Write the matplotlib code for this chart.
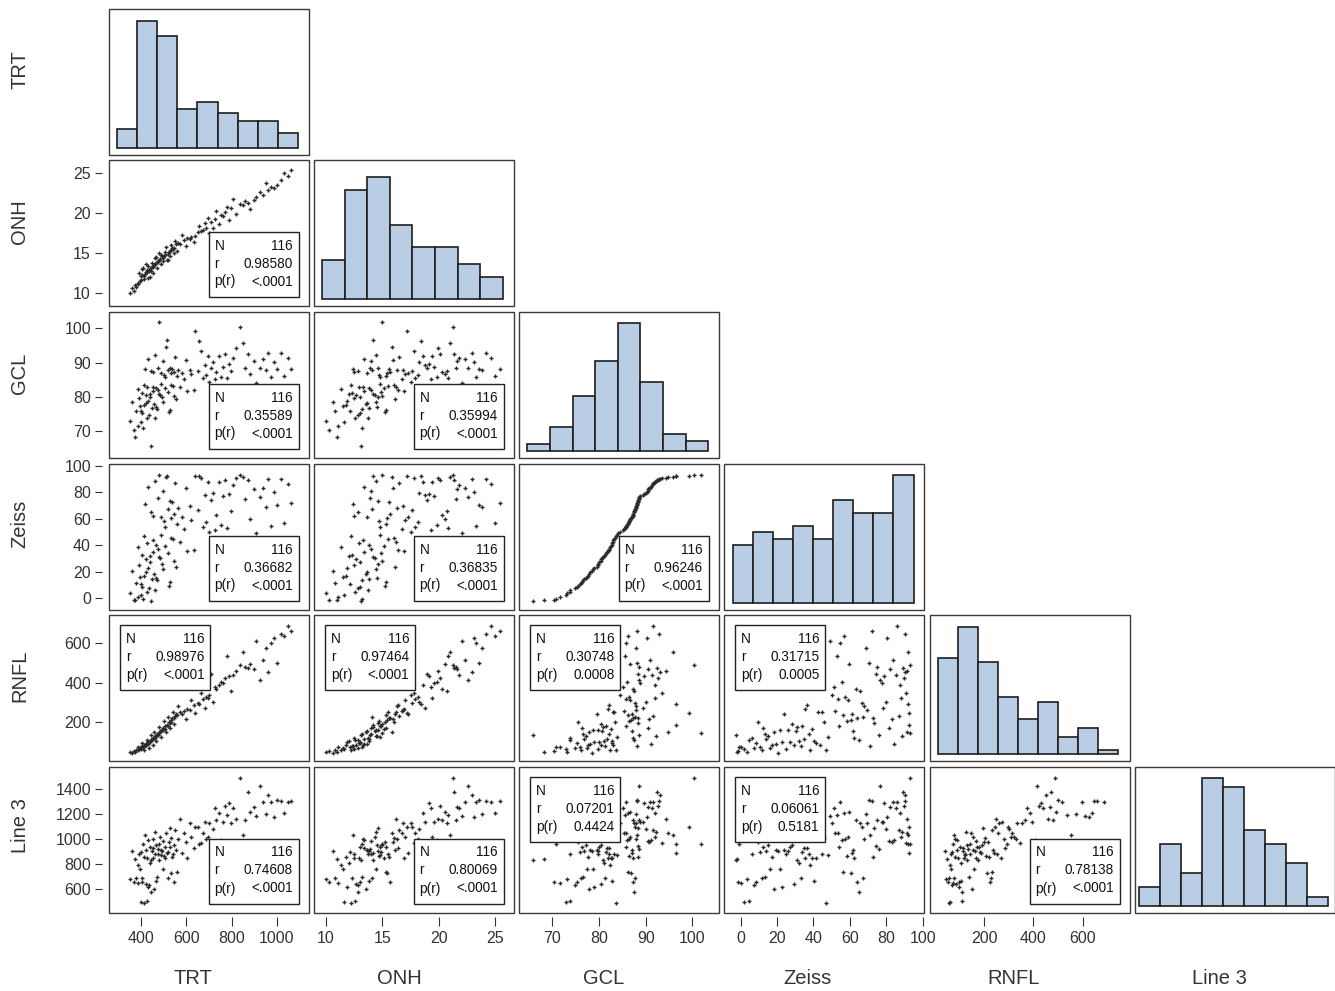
import numpy as np
import matplotlib.pyplot as plt
from matplotlib.patches import Rectangle

plt.rcParams['font.family'] = ['Liberation Sans', 'DejaVu Sans']

var_names = ["TRT", "ONH", "GCL", "Zeiss", "RNFL", "Line 3"]

# one value per subject, same subject order in every list
trt = [353, 361, 369, 374, 380,
       386, 388, 393, 395, 399, 401, 405, 407, 410, 413, 415, 417, 421, 423, 426, 428, 431,
       433, 436, 439, 441, 443, 447, 449, 452, 454, 456, 459, 461, 463, 466, 468, 470,
       474, 476, 480, 482, 485, 488, 490, 494, 496, 499, 503, 505, 508, 512, 514, 518, 520,
       523, 527, 529, 533, 535, 539, 541, 545, 548, 551, 554, 559,
       566, 573, 583, 589, 599, 605, 616, 623, 634, 641,
       653, 658, 667, 672, 681, 686, 695, 700, 710, 716, 726, 732,
       745, 752, 763, 770, 781, 788, 799, 807, 819,
       835, 849, 859, 873, 883, 897, 907,
       926, 937, 951, 961, 975, 985, 999,
       1016, 1029, 1047, 1061]

onh = [10.0, 10.6, 10.3, 11.0, 10.8, 11.3, 11.1, 12.5, 11.5, 11.6,
       12.1, 13.0, 12.3, 13.2, 12.2, 11.8, 12.4, 12.7, 13.6, 12.6,
       12.9, 13.4, 11.9, 12.8, 13.0, 12.0, 13.1, 12.8, 13.8, 13.3,
       12.5, 13.4, 13.5, 13.7, 14.4, 13.8, 14.5, 13.2, 14.0, 13.9,
       14.2, 15.0, 14.3, 14.8, 13.6, 14.6, 14.4, 14.0, 14.7, 15.1,
       14.8, 15.8, 14.2, 14.9, 14.1, 15.2, 14.6, 15.3, 15.4, 16.0,
       15.6, 15.5, 15.0, 15.7, 16.5, 16.1, 15.3, 16.3, 16.2, 17.3,
       16.7, 15.9, 16.9, 16.8, 17.0, 16.4, 17.2, 17.6, 18.4, 17.8,
       17.9, 18.8, 18.1, 19.4, 17.5, 18.9, 18.2, 19.3, 20.3, 18.6,
       19.8, 19.6, 20.1, 20.8, 19.1, 20.7, 21.8, 19.9, 21.2, 21.0,
       21.5, 21.3, 20.5, 21.6, 22.0, 22.6, 22.3, 23.8, 22.9, 23.3,
       23.1, 23.5, 24.2, 25.0, 24.6, 25.4]

gcl = [73.2, 78.5, 70.4, 68.3, 76.1, 82.4, 71.6, 79.8, 77.4, 72.9,
       75.9, 75.4, 81.2, 70.9, 83.6, 77.7, 88.2, 80.5, 78.2, 73.8,
       82.9, 91.2, 78.9, 74.9, 80.1, 81.0, 65.8, 87.5, 76.8, 83.1,
       87.2, 81.7, 77.9, 73.9, 92.3, 82.8, 77.2, 76.6, 82.2, 88.6,
       80.8, 101.8, 80.7, 83.8, 87.1, 79.9, 78.7, 90.4, 86.5, 82.6,
       85.8, 94.7, 96.6, 81.5, 87.8, 75.6, 88.4, 76.4, 86.9, 83.4,
       88.3, 83.3, 80.4, 87.4, 91.6, 79.6, 86.2, 87.9, 83.0, 87.0,
       85.4, 90.8, 81.9, 88.0, 86.6, 82.1, 99.3, 87.7, 96.4, 93.5,
       85.7, 89.4, 86.4, 92.0, 84.5, 88.4, 90.1, 85.2, 87.3, 91.9,
       86.0, 88.8, 92.7, 85.5, 89.7, 87.6, 91.3, 94.4, 100.3, 95.9,
       88.5, 92.5, 86.7, 90.6, 84.0, 88.6, 91.0, 87.9, 93.0, 85.9,
       90.2, 88.1, 92.9, 86.3, 91.5, 88.2]

zeiss = [3.5, 20.5, -1.6, -1.9, 11.5, 38.3, 0.5, 24.9, 16.0, 2.0,
         10.5, 8.3, 32.9, -1.0, 46.9, 17.0, 71.2, 29.3, 19.4, 4.8,
         41.4, 84.4, 22.7, 7.2, 27.1, 32.0, -2.3, 64.8, 14.2, 43.6,
         62.4, 34.7, 18.3, 6.0, 88.7, 40.3, 15.1, 13.3, 37.4, 75.8,
         31.1, 93.0, 30.2, 48.0, 61.5, 26.0, 21.6, 81.4, 58.3, 39.2,
         54.1, 91.5, 92.4, 33.8, 67.2, 9.4, 73.4, 12.4, 60.4, 45.8,
         72.5, 44.7, 28.2, 64.0, 86.8, 23.8, 56.2, 68.0, 42.5, 61.0,
         52.0, 83.0, 35.6, 69.6, 59.0, 36.5, 92.6, 66.4, 92.1, 90.9,
         53.4, 78.2, 57.6, 88.1, 50.2, 74.2, 79.8, 51.3, 63.2, 87.5,
         55.5, 77.4, 89.7, 52.7, 79.0, 65.6, 85.3, 91.2, 92.8, 91.8,
         75.0, 89.2, 59.7, 82.2, 49.1, 76.6, 83.6, 68.8, 90.5, 54.8,
         80.6, 70.4, 90.1, 56.9, 86.1, 71.9]

rnfl = [46, 41, 53, 50, 56, 60, 75, 65, 67, 63,
        71, 96, 77, 73, 58, 81, 79, 85, 88, 109,
        93, 90, 99, 69, 101, 106, 132, 111, 114, 83,
        119, 116, 150, 121, 127, 104, 129, 138, 141, 135,
        174, 144, 153, 124, 156, 162, 159, 168, 206, 165,
        178, 147, 186, 182, 226, 198, 194, 171, 210, 202,
        218, 253, 190, 222, 230, 238, 234, 279, 250, 242,
        256, 214, 267, 261, 309, 285, 246, 297, 291, 345,
        315, 273, 328, 321, 335, 445, 303, 375, 365, 385,
        405, 395, 424, 535, 431, 355, 438, 459, 487, 555,
        480, 473, 494, 466, 612, 415, 515, 575, 452, 598,
        625, 499, 648, 637, 688, 659]

line3 = [680, 905, 660, 840, 690, 795, 650, 880, 760, 495,
         900, 655, 690, 960, 485, 860, 1030, 640, 915, 505,
         850, 990, 620, 630, 940, 805, 830, 575, 905, 1000,
         845, 925, 600, 880, 1060, 665, 950, 700, 880, 920,
         835, 960, 1015, 870, 910, 905, 760, 985, 865, 850,
         935, 1045, 890, 900, 685, 975, 1090, 940, 730, 1010,
         860, 880, 955, 660, 1070, 915, 740, 1000, 1160, 890,
         1050, 975, 845, 1130, 1020, 930, 1095, 1100, 960, 965,
         1045, 1140, 1000, 1020, 1125, 945, 1080, 1250, 1150, 1210,
         990, 1140, 1265, 1195, 1290, 1130, 1245, 1160, 1492, 1035,
         1150, 1375, 1220, 1260, 1185, 1425, 1300, 1200, 1355, 1295,
         1180, 1310, 1305, 1210, 1300, 1305]

# correlation boxes as printed in the chart (row var, col var)
stat_cells = [(1, 0), (2, 0), (2, 1), (3, 0), (3, 1), (3, 2),
              (4, 0), (4, 1), (4, 2), (4, 3),
              (5, 0), (5, 1), (5, 2), (5, 3), (5, 4)]
stat_r = [0.98580, 0.35589, 0.35994, 0.36682, 0.36835, 0.96246,
          0.98976, 0.97464, 0.30748, 0.31715,
          0.74608, 0.80069, 0.07201, 0.06061, 0.78138]
stat_p = ["<.0001", "<.0001", "<.0001", "<.0001", "<.0001", "<.0001",
          "<.0001", "<.0001", "0.0008", "0.0005",
          "<.0001", "<.0001", "0.4424", "0.5181", "<.0001"]

# ---- layout / style ----
W, H = 1335, 991
col_left = [109, 314, 519, 724, 930, 1135]
row_top = [9, 160, 312, 464, 615, 767]
pw, ph = 200, 146

xlims = [(260, 1141), (8.94, 26.64), (62.9, 105.7), (-9.1, 100.7), (-20, 793), (448, 1532)]
ylims = [None, (8.41, 26.66), (62.28, 104.8), (-9.1, 101.5), (2.5, 741.8), (408, 1576)]
axis_ticks = [[400, 600, 800, 1000], [10, 15, 20, 25], [70, 80, 90, 100],
              [0, 20, 40, 60, 80, 100], [200, 400, 600], [600, 800, 1000, 1200, 1400]]
hist_bins = [(294, 88.8, 9), (9.65, 2.0, 8), (64.7, 4.84, 8),
             (-4.4, 11.04, 9), (13.8, 81.3, 9), (470, 114, 9)]
hist_top_gap = [11.7, 17, 10.7, 10.7, 12.3, 11]
upper_left_boxes = {(4, 0), (4, 1), (4, 2), (4, 3), (5, 2), (5, 3)}

ylabel_pos = [70, 222, 373, 524, 676, 826]
xlabel_pos = [193, 399, 604, 808, 1014, 1219]

bar_color = "#b9cde5"
frame_color = "#3a3a3a"
text_color = "#333333"

data = [trt, onh, gcl, zeiss, rnfl, line3]
stats = dict(zip(stat_cells, zip(stat_r, stat_p)))

fig = plt.figure(figsize=(13.35, 9.91), dpi=100)

for i in range(6):
    for j in range(i + 1):
        ax = fig.add_axes([col_left[j] / W, 1 - (row_top[i] + ph) / H, pw / W, ph / H])
        ax.set_xlim(xlims[j])
        for sp in ax.spines.values():
            sp.set_color("none")
        ax.add_patch(Rectangle((0, 0), 1, 1, transform=ax.transAxes, fill=False,
                               ec=frame_color, lw=1.0, clip_on=False, zorder=6))

        if i == j:
            start, width, nb = hist_bins[i]
            edges = start + width * np.arange(nb + 1)
            counts, _, _ = ax.hist(data[i], bins=edges, fc=bar_color, ec="#1e1e1e", lw=1.2)
            m = counts.max()
            s = (ph - 7 - hist_top_gap[i]) / m
            ax.set_ylim(-7 / s, m + hist_top_gap[i] / s)
        else:
            ax.scatter(data[j], data[i], marker="+", s=12, linewidths=1.0,
                       c="#2a2a2a", zorder=2)
            ax.set_ylim(ylims[i])

            r, p = stats[(i, j)]
            bw, bh = 90 / pw, 65 / ph
            if (i, j) in upper_left_boxes:
                x0, y0 = 11 / pw, 1 - 10 / ph - bh
            else:
                x0, y0 = 1 - 10.5 / pw - bw, 9.5 / ph
            ax.add_patch(Rectangle((x0, y0), bw, bh, transform=ax.transAxes,
                                   fc="white", ec="#222222", lw=1.0, zorder=4))
            left = ["N", "r", "p(r)"]
            right = [str(len(data[i])), f"{r:.5f}", p]
            for k in range(3):
                ty = y0 + bh - (14 + 18 * k) / ph
                ax.text(x0 + 6 / pw, ty, left[k], transform=ax.transAxes,
                        ha="left", va="center", fontsize=9.8, color="#111111", zorder=5)
                ax.text(x0 + bw - 5.5 / pw, ty, right[k], transform=ax.transAxes,
                        ha="right", va="center", fontsize=9.8, color="#111111", zorder=5)

        # y axis ticks only on the first column
        if j == 0 and i > 0:
            ax.spines["left"].set_position(("outward", 5))
            ax.set_yticks(axis_ticks[i])
            ax.tick_params(axis="y", direction="out", length=5, width=0.8, pad=3,
                           labelsize=11.5, colors=text_color)
        else:
            ax.set_yticks([])

        # x axis ticks only on the bottom row
        if i == 5 and j < 5:
            ax.spines["bottom"].set_position(("outward", 3))
            ax.set_xticks(axis_ticks[j])
            ax.tick_params(axis="x", direction="out", length=6.5, width=0.8, pad=3.5,
                           labelsize=11.5, colors=text_color)
        else:
            ax.set_xticks([])

for k, name in enumerate(var_names):
    fig.text(20 / W, 1 - ylabel_pos[k] / H, name, rotation=90, ha="center", va="center",
             fontsize=14.5, color=text_color)
    fig.text(xlabel_pos[k] / W, 1 - 979 / H, name, ha="center", va="center",
             fontsize=14.5, color=text_color)

fig.savefig("out.png", dpi=100, facecolor="white")
